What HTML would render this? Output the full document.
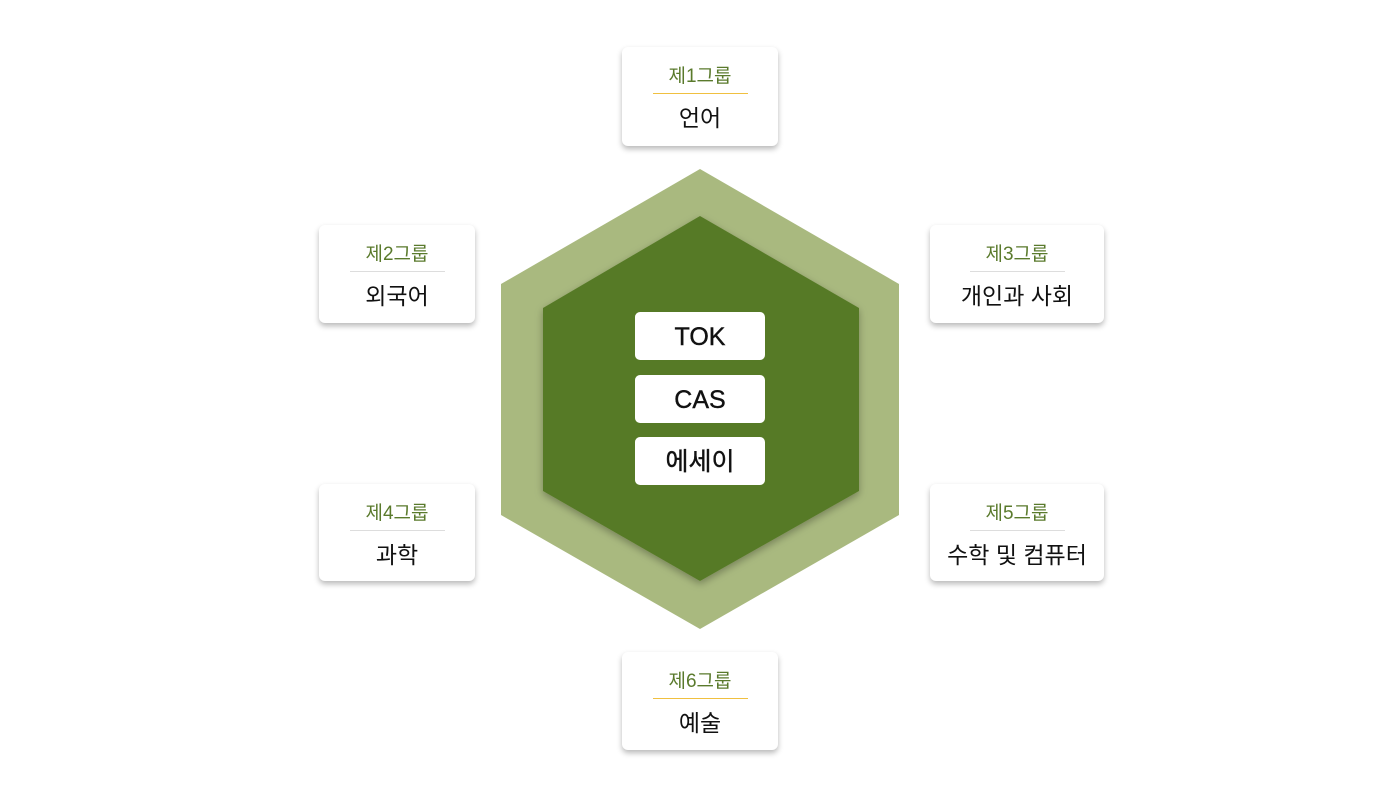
<!DOCTYPE html>
<html><head><meta charset="utf-8"><style>
body{margin:0;width:1400px;height:798px;background:#fff;position:relative;overflow:hidden;font-family:"Liberation Sans","Noto Sans CJK KR",sans-serif}
.b{position:absolute;background:#fff;border-radius:6px;box-shadow:0 3px 6px rgba(0,0,0,.28);text-align:center}
.t{color:#5a7a2c;font-size:19px;margin-top:18px;line-height:24px}
.l{height:1px;width:95px;margin:4px auto 0;background:#ddd}
.y .l{background:#f0c040}
.n{font-size:23px;color:#111;margin-top:9px;line-height:30px}
.c{position:absolute;left:635px;width:130px;height:48px;background:#fff;border-radius:5px;text-align:center;line-height:50px;font-size:25px;color:#111;-webkit-text-stroke:0.4px #111}
</style></head><body>
<svg width="1400" height="798" style="position:absolute;left:0;top:0">
<defs><filter id="s"><feDropShadow dx="0" dy="3" stdDeviation="4" flood-opacity=".3"/></filter></defs>
<polygon points="700,169 899,284 899,515 700,629 501,515 501,284" fill="#a9b97f"/>
<polygon points="700,216 859,308 859,491 700,581 543,491 543,308" fill="#577a27" filter="url(#s)"/>
</svg>
<div class="c" style="top:312px">TOK</div>
<div class="c" style="top:375px">CAS</div>
<div class="c" style="top:437px">에세이</div>
<div class="b y" style="left:622px;top:47px;width:156px;height:99px"><div class="t">제1그룹</div><div class="l"></div><div class="n">언어</div></div>
<div class="b" style="left:319px;top:225px;width:156px;height:98px"><div class="t">제2그룹</div><div class="l"></div><div class="n">외국어</div></div>
<div class="b" style="left:930px;top:225px;width:174px;height:98px"><div class="t">제3그룹</div><div class="l"></div><div class="n">개인과 사회</div></div>
<div class="b" style="left:319px;top:484px;width:156px;height:97px"><div class="t">제4그룹</div><div class="l"></div><div class="n">과학</div></div>
<div class="b" style="left:930px;top:484px;width:174px;height:97px"><div class="t">제5그룹</div><div class="l"></div><div class="n">수학 및 컴퓨터</div></div>
<div class="b y" style="left:622px;top:652px;width:156px;height:98px"><div class="t">제6그룹</div><div class="l"></div><div class="n">예술</div></div>
</body></html>
